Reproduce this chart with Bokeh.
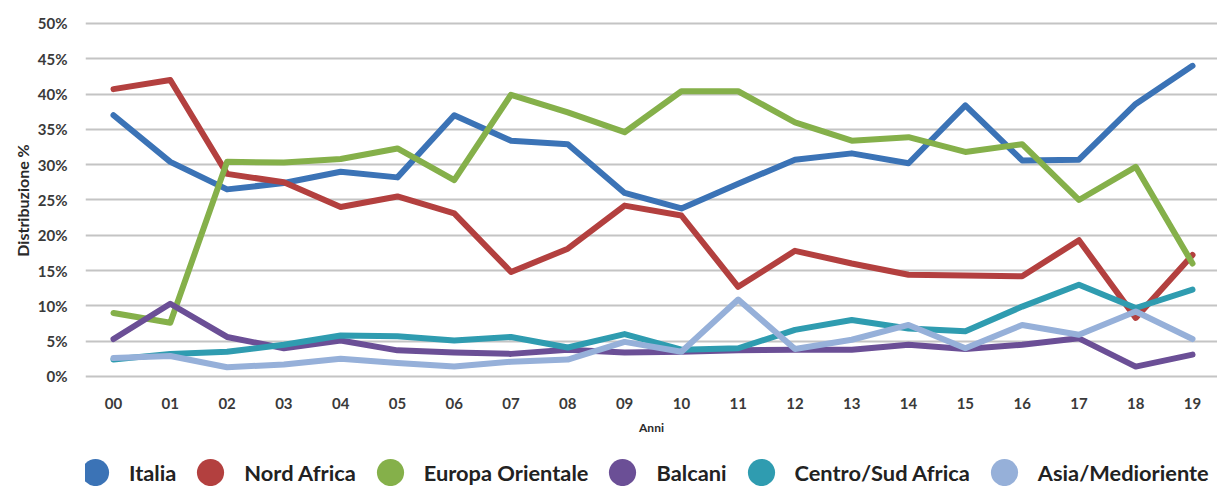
from bokeh.plotting import figure
from bokeh.layouts import column
from bokeh.models import Range1d, FixedTicker, Legend, LegendItem
from bokeh.embed import file_html
from bokeh.resources import INLINE

# Years (two-digit labels) and percentage share of each origin group
anni = ["00", "01", "02", "03", "04", "05", "06", "07", "08", "09",
        "10", "11", "12", "13", "14", "15", "16", "17", "18", "19"]
y_ticks = [0, 5, 10, 15, 20, 25, 30, 35, 40, 45, 50]
y_tick_labels = ["0%", "5%", "10%", "15%", "20%", "25%", "30%", "35%", "40%", "45%", "50%"]

italia = [37.0, 30.4, 26.5, 27.4, 29.0, 28.2, 37.0, 33.4, 32.9, 26.0,
          23.8, 27.3, 30.7, 31.6, 30.2, 38.4, 30.6, 30.7, 38.6, 44.0]
nord_africa = [40.7, 42.0, 28.7, 27.5, 24.0, 25.5, 23.1, 14.8, 18.1, 24.2,
               22.8, 12.7, 17.8, 16.0, 14.4, 14.3, 14.2, 19.3, 8.3, 17.2]
europa_orientale = [9.0, 7.6, 30.4, 30.3, 30.8, 32.3, 27.8, 39.9, 37.4, 34.6,
                    40.4, 40.4, 36.0, 33.4, 33.9, 31.8, 32.9, 25.0, 29.7, 16.0]
balcani = [5.3, 10.3, 5.6, 4.0, 5.1, 3.7, 3.4, 3.2, 3.8, 3.4,
           3.5, 3.7, 3.8, 3.8, 4.5, 3.9, 4.5, 5.4, 1.4, 3.1]
centro_sud_africa = [2.4, 3.2, 3.5, 4.5, 5.8, 5.7, 5.1, 5.6, 4.1, 6.0,
                     3.8, 4.0, 6.6, 8.0, 6.8, 6.4, 9.9, 13.0, 9.7, 12.3]
asia_medioriente = [2.6, 2.9, 1.3, 1.7, 2.5, 1.9, 1.4, 2.1, 2.4, 4.9,
                    3.5, 10.9, 3.9, 5.2, 7.3, 4.0, 7.3, 5.9, 9.2, 5.3]

series_names = ["Italia", "Nord Africa", "Europa Orientale", "Balcani",
                "Centro/Sud Africa", "Asia/Medioriente"]
series_values = [italia, nord_africa, europa_orientale, balcani,
                 centro_sud_africa, asia_medioriente]
colors = ["#3b73b6", "#b3403f", "#85b04a", "#6b4f96", "#2f9cb0", "#96b0d9"]

x = list(range(len(anni)))

FONT = "Lato"
TEXT = "#3a3a3a"

# ---- main line chart ----
p = figure(width=1217, height=440, output_backend="svg", toolbar_location=None,
           x_range=Range1d(-0.493, 19.44), y_range=Range1d(-0.57, 50.42),
           min_border_left=85, min_border_right=0, min_border_top=20,
           min_border_bottom=60, outline_line_color=None)

p.xgrid.grid_line_color = None
p.ygrid.grid_line_color = "#c4c4c4"
p.ygrid.grid_line_width = 2
p.ygrid.ticker = FixedTicker(ticks=y_ticks)

p.yaxis.ticker = FixedTicker(ticks=y_ticks)
p.yaxis.major_label_overrides = {t: lab for t, lab in zip(y_ticks, y_tick_labels)}
p.xaxis.ticker = FixedTicker(ticks=x)
p.xaxis.major_label_overrides = {i: lab for i, lab in zip(x, anni)}

for ax in (p.xaxis, p.yaxis):
    ax.axis_line_color = None
    ax.major_tick_line_color = None
    ax.minor_tick_line_color = None
    ax.major_tick_out = 0
    ax.major_tick_in = 0
    ax.major_label_text_font = FONT
    ax.major_label_text_font_style = "bold"
    ax.major_label_text_font_size = "15px"
    ax.major_label_text_color = TEXT
    ax.axis_label_text_font = FONT
    ax.axis_label_text_font_style = "bold"
    ax.axis_label_text_color = "#2a2a2a"

p.yaxis.axis_label = "Distribuzione %"
p.yaxis.axis_label_text_font_size = "16px"
p.yaxis.major_label_standoff = 18
p.yaxis.axis_label_standoff = 3

p.xaxis.axis_label = "Anni"
p.xaxis.axis_label_text_font_size = "12px"
p.xaxis.major_label_standoff = 17
p.xaxis.axis_label_standoff = 8

for vals, col in zip(series_values, colors):
    p.line(x, vals, line_color=col, line_width=6, line_join="round", line_cap="round")

# ---- key strip under the chart (its frame lines up with the chart frame) ----
k = figure(width=1217, height=46, output_backend="svg", toolbar_location=None,
           x_range=Range1d(-0.493, 19.44), y_range=Range1d(-0.57, 50.42),
           x_axis_location=None, y_axis_location=None,
           min_border=0, outline_line_color=None)
k.grid.visible = False

items = []
for name, vals, col in zip(series_names, series_values, colors):
    # hidden marker renderer: supplies the round dot shown in the key
    dot = k.scatter(x, vals, marker="circle", size=1, fill_color=col,
                    line_color=None, visible=False)
    items.append(LegendItem(label=name, renderers=[dot]))

legend = Legend(items=items, orientation="horizontal", location=(-24, -20),
                glyph_width=68, glyph_height=68, label_standoff=-6, spacing=0,
                padding=0, margin=0, border_line_color=None,
                background_fill_alpha=0, click_policy="none",
                label_text_font=FONT, label_text_font_style="bold",
                label_text_font_size="21.8px", label_text_color="#222222")
k.add_layout(legend, "center")

open("out.html", "w").write(file_html(column(p, k, spacing=0), INLINE))
